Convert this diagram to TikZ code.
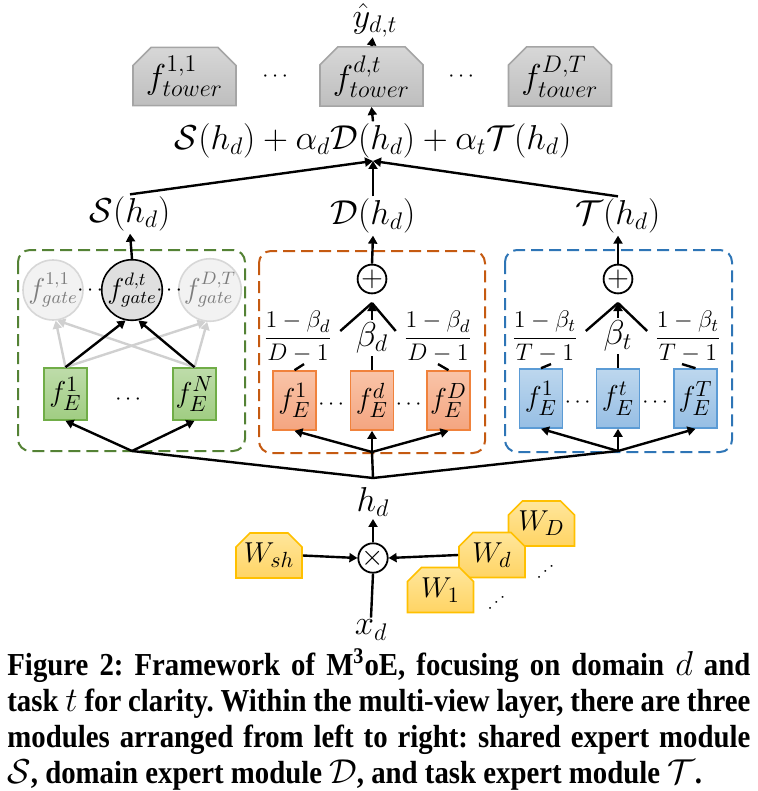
\documentclass[tikz,border=0pt]{standalone}
\usepackage{amsmath}
\usepackage{amssymb}
\usepackage{fontspec}
\newfontfamily\capfont[FakeStretch=0.9]{Liberation Serif}
\usepackage{tikz}
\usetikzlibrary{positioning,calc,shapes.misc,arrows.meta}
\usepackage{xcolor}

\definecolor{greenline}{RGB}{84,130,53}
\definecolor{orangeline}{RGB}{197,90,17}
\definecolor{blueline}{RGB}{46,117,182}
\definecolor{greenedge}{RGB}{112,173,71}
\definecolor{greentop}{RGB}{190,220,170}
\definecolor{greenbot}{RGB}{160,205,130}
\definecolor{orangeedge}{RGB}{240,130,60}
\definecolor{orangetop}{RGB}{249,196,168}
\definecolor{orangebot}{RGB}{244,165,128}
\definecolor{blueedge}{RGB}{91,155,213}
\definecolor{bluetop}{RGB}{189,215,238}
\definecolor{bluebot}{RGB}{150,190,228}
\definecolor{wedge}{RGB}{255,192,0}
\definecolor{wtop}{RGB}{255,230,155}
\definecolor{wbot}{RGB}{255,212,100}
\definecolor{toweredge}{RGB}{165,165,165}
\definecolor{towertop}{RGB}{215,215,215}
\definecolor{towerbot}{RGB}{190,190,190}
\definecolor{gatefill}{RGB}{242,242,242}
\definecolor{gateedge}{RGB}{215,215,215}
\definecolor{gatetext}{RGB}{125,125,125}
\definecolor{gatelink}{RGB}{208,208,208}

\tikzset{
  lbl/.style={font=\fontsize{16.5}{19}\selectfont, inner sep=1pt},
  small/.style={font=\fontsize{12.5}{14}\selectfont, inner sep=0.5pt},
  dots/.style={font=\fontsize{11}{13}\selectfont, inner sep=0pt},
  arr/.style={-{Triangle[length=4pt,width=4.5pt]}, line width=1.2pt},
  ln/.style={line width=1.2pt},
  dashbox/.style={line width=1pt, dash pattern=on 6pt off 3pt, rounded corners=6pt},
  chamf/.style={chamfered rectangle, chamfered rectangle corners={north west,north east},
    line width=0.8pt, inner sep=0pt},
  tower/.style={chamf, chamfered rectangle xsep=4.5pt, chamfered rectangle ysep=4.5pt,
    draw=toweredge, top color=towertop, bottom color=towerbot,
    minimum width=51.5pt, minimum height=26pt, font=\fontsize{16.5}{19}\selectfont},
  wbox/.style={chamf, chamfered rectangle xsep=3.5pt, chamfered rectangle ysep=3.5pt,
    draw=wedge, top color=wtop, bottom color=wbot,
    minimum width=33pt, minimum height=22.5pt, font=\fontsize{15}{17}\selectfont},
  expert/.style={rectangle, line width=0.8pt, inner sep=0pt, minimum width=21.5pt,
    font=\fontsize{15}{17}\selectfont},
  expS/.style={expert, draw=greenedge, top color=greentop, bottom color=greenbot, minimum height=26pt},
  expD/.style={expert, draw=orangeedge, top color=orangetop, bottom color=orangebot, minimum height=29.5pt},
  expT/.style={expert, draw=blueedge, top color=bluetop, bottom color=bluebot, minimum height=29.5pt},
  gate/.style={circle, line width=0.8pt, minimum size=25.5pt, inner sep=0pt,
    font=\fontsize{13.5}{15}\selectfont},
  op/.style={circle, draw, line width=0.9pt, minimum size=13.5pt, inner sep=0pt}
}

\begin{document}
\begin{tikzpicture}[x=0.5pt,y=-0.5pt]
  \useasboundingbox (0,0) rectangle (758,791);

  % Output and towers
  \node[lbl, inner sep=0pt] (yhat) at (375,20) {$\hat{y}_{d,t}$};
  \node[tower] (tw1) at (184.5,76.5) {$f^{1,1}_{tower}$};
  \node[dots] (twdots1) at (277,77) {$\cdots$};
  \node[tower] (twm) at (371.5,76.5) {$f^{d,t}_{tower}$};
  \node[dots] (twdots2) at (463,77) {$\cdots$};
  \node[tower] (tw2) at (560,76.5) {$f^{D,T}_{tower}$};
  \draw[arr] (twm.north) -- (yhat);

  % Combination
  \node[lbl] (sum) at (373,141) {$\mathcal{S}(h_d)+\alpha_d\mathcal{D}(h_d)+\alpha_t\mathcal{T}(h_d)$};
  \draw[arr] (sum.north) -- (twm.south);
  \coordinate (conv) at (373,161);
  \node[lbl] (sv) at (130,214) {$\mathcal{S}(h_d)$};
  \node[lbl] (dv) at (373,216) {$\mathcal{D}(h_d)$};
  \node[lbl] (tv) at (618,216) {$\mathcal{T}(h_d)$};
  \draw[arr] (sv.north) -- (conv);
  \draw[arr] (dv.north) -- (conv);
  \draw[arr] (tv.north) -- (conv);

  % Module borders
  \draw[greenline, dashbox] (18,250) rectangle (245,451);
  \draw[orangeline, dashbox] (259,251) rectangle (485,453);
  \draw[blueline, dashbox] (505,250) rectangle (732,452);

  % Shared experts
  \node[gate, draw=gateedge, fill=gatefill, text=gatetext] (g1) at (53,290) {$f^{1,1}_{gate}$};
  \node[gate, draw, fill=gatefill!92!black] (gm) at (132,290) {$f^{d,t}_{gate}$};
  \node[gate, draw=gateedge, fill=gatefill, text=gatetext] (g2) at (210,290) {$f^{D,T}_{gate}$};
  \node[dots] (gdots1) at (92,291) {$\cdots$};
  \node[dots] (gdots2) at (171,291) {$\cdots$};
  \node[expS] (s1) at (65.5,394) {$f_E^1$};
  \node[dots] (sdots) at (130,400) {$\cdots$};
  \node[expS] (sn) at (194.5,394) {$f_E^N$};
  \draw[arr, gatelink] (s1.north) -- (g1.275);
  \draw[arr, gatelink] (s1.north) -- (g2.262);
  \draw[arr, gatelink] (sn.north) -- (g1.278);
  \draw[arr, gatelink] (sn.north) -- (g2.265);
  \draw[arr] (s1.north) -- (gm.258);
  \draw[arr] (sn.north) -- (gm.282);
  \draw[arr] (gm.north) -- (sv.south);

  % Domain experts
  \node[op] (dsum) at (372,279) {\Large$+$};
  \coordinate (dconv) at (372,303);
  \node[small] (dfl) at (298,337) {$\dfrac{1-\beta_d}{D-1}$};
  \node[lbl] (db) at (372,338) {$\beta_d$};
  \node[small] (dfr) at (438,337) {$\dfrac{1-\beta_d}{D-1}$};
  \node[expD] (d1) at (294.5,400.5) {$f_E^1$};
  \node[dots] (ddots1) at (333,405) {$\cdots$};
  \node[expD] (dd) at (372,400.5) {$f_E^d$};
  \node[dots] (ddots2) at (410.5,405) {$\cdots$};
  \node[expD] (dn) at (448.5,400.5) {$f_E^D$};
  \draw[ln] ([shift={(3pt,3pt)}]dfl.east) -- (dconv);
  \draw[ln] ([shift={(-3pt,3pt)}]dfr.west) -- (dconv);
  \draw[arr] (db.north) -- (dconv);
  \draw[ln] (dd.north) -- (db.south);
  \draw[ln] ([xshift=3pt]dfl.south) -- (d1.north);
  \draw[ln] (dfr.south) -- (dn.north);
  \draw[arr] (dsum.north) -- (dv.south);

  % Task experts
  \node[op] (tsum) at (618,279) {\Large$+$};
  \coordinate (tconv) at (618,303);
  \node[small] (tfl) at (545,337) {$\dfrac{1-\beta_t}{T-1}$};
  \node[lbl] (tb) at (618,336) {$\beta_t$};
  \node[small] (tfr) at (688,337) {$\dfrac{1-\beta_t}{T-1}$};
  \node[expT] (t1) at (541,398.5) {$f_E^1$};
  \node[dots] (tdots1) at (579.5,403) {$\cdots$};
  \node[expT] (tt) at (618,398.5) {$f_E^t$};
  \node[dots] (tdots2) at (657,403) {$\cdots$};
  \node[expT] (tn) at (695.5,398.5) {$f_E^T$};
  \draw[ln] ([shift={(3pt,3pt)}]tfl.east) -- (tconv);
  \draw[ln] ([shift={(-3pt,3pt)}]tfr.west) -- (tconv);
  \draw[arr] (tb.north) -- (tconv);
  \draw[ln] (tt.north) -- (tb.south);
  \draw[ln] ([xshift=3pt]tfl.south) -- (t1.north);
  \draw[ln] ([xshift=-3pt]tfr.south) -- (tn.north);
  \draw[arr] (tsum.north) -- (tv.south);

  % Input to experts
  \coordinate (mj) at (373,478);
  \coordinate (gj) at (132,451);
  \coordinate (oj) at (372,452);
  \coordinate (bj) at (618,451);
  \draw[ln] (gj) -- (mj) -- (bj);
  \draw[ln] (mj) -- (oj);
  \draw[arr] (gj) -- (s1.south);
  \draw[arr] (gj) -- (sn.south);
  \draw[arr] (oj) -- (d1.south);
  \draw[arr] (oj) -- (dd.south);
  \draw[arr] (oj) -- (dn.south);
  \draw[arr] (bj) -- (t1.south);
  \draw[arr] (bj) -- (tt.south);
  \draw[arr] (bj) -- (tn.south);

  % Input layer
  \node[lbl] (hd) at (373,502) {$h_d$};
  \node[op] (mult) at (373,558) {\Large$\times$};
  \node[lbl] (xd) at (371,630) {$x_d$};
  \node[wbox] (wsh) at (269,555.5) {$W_{sh}$};
  \node[wbox] (wD) at (541.5,523.5) {$W_D$};
  \node[wbox] (wd) at (492,555) {$W_d$};
  \node[wbox] (w1) at (440.5,590) {$W_1$};
  \node[rotate=40, inner sep=0pt, font=\fontsize{9}{11}\selectfont] (wdots1) at (547,571) {$\cdots$};
  \node[rotate=40, inner sep=0pt, font=\fontsize{9}{11}\selectfont] (wdots2) at (498,602) {$\cdots$};
  \draw[ln] (xd.north) -- (mult.south);
  \draw[arr] (mult.north) -- (hd.south);
  \draw[arr] (wsh.east) -- (mult.west);
  \draw[arr] (wd.west) -- (mult.east);

  % Caption
  \node[anchor=north west, inner sep=0pt, align=left,
    font=\capfont\bfseries\frenchspacing\fontsize{16}{18}\selectfont] (cap) at (7,648)
  {\makebox[371.5pt][s]{Figure 2: Framework of M\textsuperscript{3}oE, focusing on domain $d$ and}\\
   \makebox[371.5pt][s]{task $t$ for clarity. Within the multi-view layer, there are three}\\
   \makebox[371.5pt][s]{modules arranged from left to right: shared expert module}\\
   $\mathcal{S}$, domain expert module $\mathcal{D}$, and task expert module $\mathcal{T}$.};
\end{tikzpicture}
\end{document}
